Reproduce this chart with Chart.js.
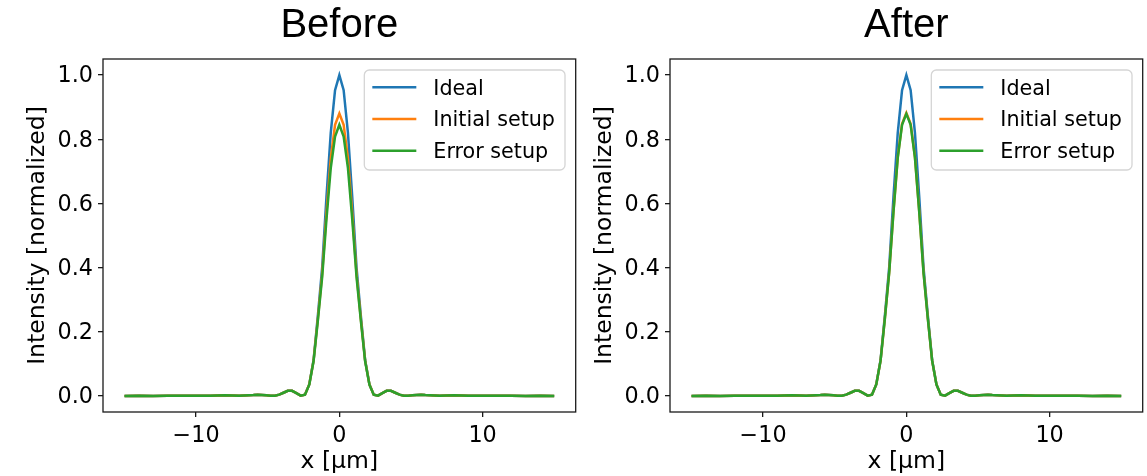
<!DOCTYPE html>
<html>
<head>
<meta charset="utf-8">
<script src="https://cdn.jsdelivr.net/npm/chart.js@4.4.0/dist/chart.umd.min.js"></script>
<style>
  html, body { margin: 0; padding: 0; background: #fff; }
  #wrap { position: relative; width: 1147px; height: 476px; overflow: hidden; }
  #wrap canvas { position: absolute; top: 0; }
</style>
</head>
<body>
<div id="wrap">
  <canvas id="before" width="580" height="476" style="left:0"></canvas>
  <canvas id="after" width="580" height="476" style="left:567px"></canvas>
</div>
<script>
// sample positions (um): coarse in the tails, 0.3 steps around the peak
var xs = [-15, -14, -13, -12, -11, -10, -9, -8, -7,
	-6, -5.7, -5.4, -5.1, -4.8, -4.5, -4.2, -3.9, -3.6, -3.3, -3, -2.7, -2.4, -2.1, -1.8, -1.5, -1.2, -0.9, -0.6, -0.3,
	0,
	0.3, 0.6, 0.9, 1.2, 1.5, 1.8, 2.1, 2.4, 2.7, 3, 3.3, 3.6, 3.9, 4.2, 4.5, 4.8, 5.1, 5.4, 5.7, 6,
	7, 8, 9, 10, 11, 12, 13, 14, 15];

var beforeIdeal = [0.000, 0.001, 0.000, 0.001, 0.001, 0.001, 0.001, 0.002, 0.001,
	0.003, 0.004, 0.003, 0.002, 0.001, 0.001, 0.004, 0.010, 0.016, 0.016, 0.009, 0.001, 0.004, 0.036, 0.112, 0.250, 0.400, 0.620, 0.820, 0.953,
	1.000,
	0.953, 0.820, 0.620, 0.400, 0.250, 0.112, 0.036, 0.004, 0.001, 0.009, 0.016, 0.016, 0.010, 0.004, 0.001, 0.001, 0.002, 0.003, 0.004, 0.003,
	0.001, 0.002, 0.001, 0.001, 0.001, 0.001, 0.000, 0.001, 0.000];
var beforeInitial = [0.000, 0.001, 0.000, 0.001, 0.001, 0.001, 0.001, 0.002, 0.001,
	0.003, 0.004, 0.003, 0.002, 0.001, 0.001, 0.004, 0.010, 0.016, 0.016, 0.009, 0.001, 0.004, 0.036, 0.110, 0.240, 0.380, 0.570, 0.740, 0.845,
	0.880,
	0.845, 0.740, 0.570, 0.380, 0.240, 0.110, 0.036, 0.004, 0.001, 0.009, 0.016, 0.016, 0.010, 0.004, 0.001, 0.001, 0.002, 0.003, 0.004, 0.003,
	0.001, 0.002, 0.001, 0.001, 0.001, 0.001, 0.000, 0.001, 0.000];
var beforeError = [0.000, 0.001, 0.000, 0.001, 0.001, 0.001, 0.001, 0.002, 0.001,
	0.003, 0.004, 0.003, 0.002, 0.001, 0.001, 0.004, 0.010, 0.016, 0.016, 0.009, 0.001, 0.004, 0.035, 0.108, 0.235, 0.370, 0.550, 0.710, 0.808,
	0.845,
	0.808, 0.710, 0.550, 0.370, 0.235, 0.108, 0.035, 0.004, 0.001, 0.009, 0.016, 0.016, 0.010, 0.004, 0.001, 0.001, 0.002, 0.003, 0.004, 0.003,
	0.001, 0.002, 0.001, 0.001, 0.001, 0.001, 0.000, 0.001, 0.000];

var afterIdeal = beforeIdeal.slice();
var afterInitial = [0.000, 0.001, 0.000, 0.001, 0.001, 0.001, 0.001, 0.002, 0.001,
	0.003, 0.004, 0.003, 0.002, 0.001, 0.001, 0.004, 0.010, 0.016, 0.016, 0.009, 0.001, 0.004, 0.036, 0.110, 0.242, 0.385, 0.575, 0.745, 0.848,
	0.882,
	0.848, 0.745, 0.575, 0.385, 0.242, 0.110, 0.036, 0.004, 0.001, 0.009, 0.016, 0.016, 0.010, 0.004, 0.001, 0.001, 0.002, 0.003, 0.004, 0.003,
	0.001, 0.002, 0.001, 0.001, 0.001, 0.001, 0.000, 0.001, 0.000];
var afterError = [0.000, 0.001, 0.000, 0.001, 0.001, 0.001, 0.001, 0.002, 0.001,
	0.003, 0.004, 0.003, 0.002, 0.001, 0.001, 0.004, 0.010, 0.016, 0.016, 0.009, 0.001, 0.004, 0.036, 0.110, 0.240, 0.383, 0.572, 0.742, 0.845,
	0.879,
	0.845, 0.742, 0.572, 0.383, 0.240, 0.110, 0.036, 0.004, 0.001, 0.009, 0.016, 0.016, 0.010, 0.004, 0.001, 0.001, 0.002, 0.003, 0.004, 0.003,
	0.001, 0.002, 0.001, 0.001, 0.001, 0.001, 0.000, 0.001, 0.000];

var seriesNames = ['Ideal', 'Initial setup', 'Error setup'];
var seriesColors = ['#1f77b4', '#ff7f0e', '#2ca02c'];
var xTicks = [-10, 0, 10];
var xTickLabels = ['\u221210', '0', '10'];
var yTicks = [0, 0.2, 0.4, 0.6, 0.8, 1.0];
var yTickLabels = ['0.0', '0.2', '0.4', '0.6', '0.8', '1.0'];

var sans = '"DejaVu Sans", sans-serif';
var tickFont = { family: sans, size: 22.3 };
var axisFont = { family: sans, size: 23.5 };

// box around the axes plus the boxed key in the upper right corner
var frameAndKey = {
	id: 'frameAndKey',
	afterDatasetsDraw: function(chart) {
		var a = chart.chartArea;
		var ctx = chart.ctx;
		ctx.save();
		ctx.strokeStyle = '#1a1a1a';
		ctx.lineWidth = 1.3;
		ctx.strokeRect(a.left, a.top, a.right - a.left, a.bottom - a.top);

		ctx.font = '20.7px ' + sans;
		var textW = 0;
		chart.data.datasets.forEach(function(ds) {
			textW = Math.max(textW, ctx.measureText(ds.label).width);
		});
		var w = 69 + textW + 10;
		var h = 100;
		var bx = a.right - 10.7 - w;
		var by = a.top + 11;
		ctx.beginPath();
		ctx.roundRect(bx, by, w, h, 5);
		ctx.fillStyle = 'rgba(255,255,255,0.8)';
		ctx.fill();
		ctx.strokeStyle = '#d5d5d5';
		ctx.lineWidth = 1.3;
		ctx.stroke();

		chart.data.datasets.forEach(function(ds, i) {
			var y = by + 17.3 + i * 31.7;
			ctx.strokeStyle = ds.borderColor;
			ctx.lineWidth = 2.5;
			ctx.beginPath();
			ctx.moveTo(bx + 8, y);
			ctx.lineTo(bx + 52, y);
			ctx.stroke();
			ctx.fillStyle = '#000';
			ctx.textBaseline = 'middle';
			ctx.fillText(ds.label, bx + 69, y + 2);
		});
		ctx.restore();
	}
};

function makeChart(id, title, values) {
	var datasets = values.map(function(v, i) {
		return {
			label: seriesNames[i],
			data: xs.map(function(x, k) { return { x: x, y: v[k] }; }),
			borderColor: seriesColors[i],
			backgroundColor: seriesColors[i],
			borderWidth: 2.5,
			pointRadius: 0,
			tension: 0,
			fill: false,
			order: 3 - i // Error setup ends up on top
		};
	});

	return new Chart(document.getElementById(id), {
		type: 'line',
		data: { datasets: datasets },
		options: {
			responsive: false,
			animation: false,
			devicePixelRatio: 1,
			layout: { padding: { left: 0, right: 4.3, top: 0, bottom: 0 } },
			plugins: {
				legend: { display: false },
				tooltip: { enabled: false },
				title: {
					display: true,
					text: title,
					fullSize: false,
					color: '#000',
					font: { family: '"Liberation Sans", Arial, sans-serif', size: 40, weight: 'normal' },
					padding: { top: 2, bottom: 9 }
				}
			},
			scales: {
				x: {
					type: 'linear',
					min: -16.5,
					max: 16.5,
					afterBuildTicks: function(s) {
						s.ticks = xTicks.map(function(v) { return { value: v }; });
					},
					afterFit: function(s) { s.height = 64; },
					ticks: {
						callback: function(v, i) { return xTickLabels[i]; },
						font: tickFont,
						color: '#000',
						padding: 6,
						maxRotation: 0,
						autoSkip: false
					},
					grid: { drawOnChartArea: false, drawTicks: true, tickLength: 5, tickColor: '#1a1a1a', tickWidth: 1.3, lineWidth: 1.3 },
					border: { display: false },
					title: { display: true, text: 'x [\u03bcm]', color: '#000', font: axisFont, padding: { top: 0, bottom: 0 } }
				},
				y: {
					type: 'linear',
					min: -0.05,
					max: 1.05,
					afterBuildTicks: function(s) {
						s.ticks = yTicks.map(function(v) { return { value: v }; });
					},
					afterFit: function(s) { s.width = 103; },
					ticks: {
						callback: function(v, i) { return yTickLabels[i]; },
						font: tickFont,
						color: '#000',
						padding: 5,
						labelOffset: 1.5,
						autoSkip: false
					},
					grid: { drawOnChartArea: false, drawTicks: true, tickLength: 5, tickColor: '#1a1a1a', tickWidth: 1.3, lineWidth: 1.3 },
					border: { display: false },
					title: { display: true, text: 'Intensity [normalized]', color: '#000', font: axisFont, padding: { top: 23.4, bottom: 0 } }
				}
			}
		},
		plugins: [frameAndKey]
	});
}

makeChart('before', 'Before', [beforeIdeal, beforeInitial, beforeError]);
makeChart('after', 'After', [afterIdeal, afterInitial, afterError]);
</script>
</body>
</html>
